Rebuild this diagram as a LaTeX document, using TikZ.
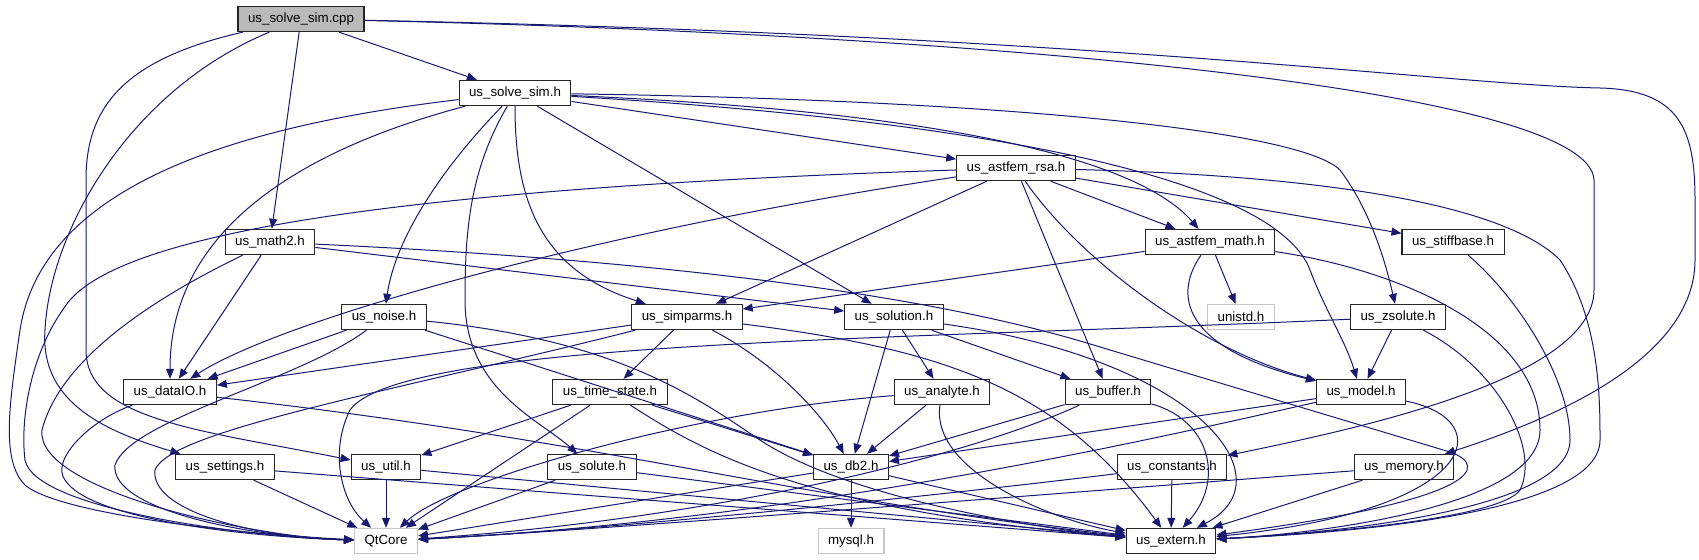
\documentclass[tikz,border=0pt]{standalone}
\usepackage{fontspec}
\setmainfont{Liberation Sans}
\usetikzlibrary{arrows.meta}

\definecolor{edgeblue}{RGB}{25,25,112}
\tikzset{
  file/.style={draw=black!85, fill=white, line width=0.8pt, inner xsep=7.5pt,
    minimum height=19pt, font=\fontsize{10}{12}\selectfont},
  mainfile/.style={file, fill=black!27},
  sysfile/.style={file, draw=black!22},
  dep/.style={->, draw=edgeblue, line width=0.75pt}
}

\begin{document}
\begin{tikzpicture}[>={Triangle[length=7.5pt,width=6pt]}, x=0.75pt, y=-0.75pt]
  \useasboundingbox (0,0) rectangle (1699,560);

  % Files
  \node[mainfile] (cpp) at (301,19) {us\_solve\_sim.cpp};
  \node[file] (ssh) at (515,93) {us\_solve\_sim.h};
  \node[file] (math2) at (270,242) {us\_math2.h};
  \node[file] (astrsa) at (1016,168) {us\_astfem\_rsa.h};
  \node[file] (astmath) at (1210,242) {us\_astfem\_math.h};
  \node[file] (stiff) at (1453,242) {us\_stiffbase.h};
  \node[file] (noise) at (384,317) {us\_noise.h};
  \node[file] (simparms) at (687,317) {us\_simparms.h};
  \node[file] (solution) at (894,317) {us\_solution.h};
  \node[sysfile] (unistd) at (1241,317) {unistd.h};
  \node[file] (zsolute) at (1398,317) {us\_zsolute.h};
  \node[file] (dataio) at (170,392) {us\_dataIO.h};
  \node[file] (timestate) at (610,392) {us\_time\_state.h};
  \node[file] (analyte) at (942,392) {us\_analyte.h};
  \node[file] (buffer) at (1108,392) {us\_buffer.h};
  \node[file] (model) at (1361,392) {us\_model.h};
  \node[file] (settings) at (225,467) {us\_settings.h};
  \node[file] (util) at (386,467) {us\_util.h};
  \node[file] (solute) at (592,467) {us\_solute.h};
  \node[file] (db2) at (851,467) {us\_db2.h};
  \node[file] (constants) at (1172,467) {us\_constants.h};
  \node[file] (memory) at (1404,467) {us\_memory.h};
  \node[sysfile] (qtcore) at (386,541) {QtCore};
  \node[sysfile] (mysql) at (851,541) {mysql.h};
  \node[file] (extern) at (1171,541) {us\_extern.h};

  % us_solve_sim.cpp
  \draw[dep] (cpp) -- (ssh);
  \draw[dep] (cpp) -- (math2);
  \draw[dep] (cpp) .. controls (130,90) and (50,230) .. (45,330) .. controls (40,400) and (100,430) .. (settings);
  \draw[dep] (cpp) .. controls (120,60) and (86,110) .. (86,180) -- (86,350) .. controls (86,420) and (200,430) .. (util);
  \draw[dep] (cpp) .. controls (1000,35) and (1590,90) .. (1594,180) -- (1594,290) .. controls (1594,380) and (1350,430) .. (constants);
  \draw[dep] (cpp) .. controls (1100,35) and (1450,85) .. (1600,88) .. controls (1680,90) and (1695,130) .. (1695,200) -- (1695,260) .. controls (1695,360) and (1550,420) .. (memory);

  % us_solve_sim.h
  \draw[dep] (ssh) -- (astrsa);
  \draw[dep] (ssh) -- (solution);
  \draw[dep] (ssh) .. controls (440,170) and (395,240) .. (noise);
  \draw[dep] (ssh) .. controls (470,170) and (465,230) .. (465,300) .. controls (465,390) and (540,420) .. (solute);
  \draw[dep] (ssh) .. controls (515,200) and (540,270) .. (simparms);
  \draw[dep] (ssh) .. controls (300,150) and (170,230) .. (dataio);
  \draw[dep] (ssh) .. controls (200,130) and (40,200) .. (20,330) .. controls (10,400) and (0,460) .. (25,485) .. controls (60,515) and (250,535) .. (qtcore);
  \draw[dep] (ssh) .. controls (900,110) and (1130,150) .. (astmath);
  \draw[dep] (ssh) .. controls (1050,125) and (1280,190) .. (1310,270) .. controls (1325,310) and (1345,340) .. (model);
  \draw[dep] (ssh) .. controls (1000,100) and (1300,130) .. (1340,170) .. controls (1370,210) and (1385,260) .. (zsolute);

  % us_math2.h
  \draw[dep] (math2) -- (dataio);
  \draw[dep] (math2) .. controls (150,300) and (60,360) .. (42,430) .. controls (35,490) and (250,537) .. (qtcore);
  \draw[dep] (math2) -- (solution);
  \draw[dep] (math2) .. controls (700,262) and (950,300) .. (1100,347) -- (1450,452) .. controls (1490,466) and (1480,500) .. (extern);

  % us_astfem_rsa.h
  \draw[dep] (astrsa) -- (astmath);
  \draw[dep] (astrsa) -- (stiff);
  \draw[dep] (astrsa) -- (simparms);
  \draw[dep] (astrsa) -- (buffer);
  \draw[dep] (astrsa) .. controls (1080,260) and (1200,350) .. (model);
  \draw[dep] (astrsa) .. controls (1300,175) and (1500,200) .. (1560,260) .. controls (1600,320) and (1600,400) .. (1600,440) .. controls (1600,520) and (1300,535) .. (extern);
  \draw[dep] (astrsa) .. controls (600,230) and (280,320) .. (dataio);
  \draw[dep] (astrsa) .. controls (500,185) and (140,220) .. (70,300) .. controls (30,350) and (20,420) .. (25,460) .. controls (35,510) and (250,537) .. (qtcore);

  % us_astfem_math.h, us_stiffbase.h
  \draw[dep] (astmath) -- (simparms);
  \draw[dep] (astmath) -- (unistd);
  \draw[dep] (astmath) .. controls (1170,300) and (1190,350) .. (model);
  \draw[dep] (astmath) .. controls (1400,270) and (1540,330) .. (1540,430) .. controls (1540,510) and (1300,535) .. (extern);
  \draw[dep] (stiff) .. controls (1520,300) and (1570,380) .. (1570,440) .. controls (1570,515) and (1300,535) .. (extern);

  % us_noise.h
  \draw[dep] (noise) -- (dataio);
  \draw[dep] (noise) .. controls (300,380) and (130,420) .. (115,465) .. controls (110,510) and (250,537) .. (qtcore);
  \draw[dep] (noise) -- (db2);
  \draw[dep] (noise) .. controls (620,340) and (700,400) .. (760,440) .. controls (850,500) and (1050,530) .. (extern);

  % us_simparms.h
  \draw[dep] (simparms) -- (dataio);
  \draw[dep] (simparms) .. controls (400,390) and (170,430) .. (155,470) .. controls (150,510) and (250,537) .. (qtcore);
  \draw[dep] (simparms) -- (timestate);
  \draw[dep] (simparms) .. controls (770,360) and (820,410) .. (db2);
  \draw[dep] (simparms) .. controls (950,350) and (1060,390) .. (extern);

  % us_solution.h
  \draw[dep] (solution) -- (db2);
  \draw[dep] (solution) -- (analyte);
  \draw[dep] (solution) -- (buffer);
  \draw[dep] (solution) .. controls (1200,360) and (1290,480) .. (extern);

  % us_zsolute.h
  \draw[dep] (zsolute) -- (model);
  \draw[dep] (zsolute) .. controls (900,340) and (400,340) .. (350,410) .. controls (330,450) and (340,500) .. (qtcore);
  \draw[dep] (zsolute) .. controls (1500,370) and (1540,450) .. (1520,490) .. controls (1500,520) and (1300,535) .. (extern);

  % us_dataIO.h, us_time_state.h
  \draw[dep] (dataio) .. controls (90,420) and (50,460) .. (65,480) .. controls (90,520) and (250,537) .. (qtcore);
  \draw[dep] (dataio) .. controls (600,440) and (800,500) .. (extern);
  \draw[dep] (timestate) -- (util);
  \draw[dep] (timestate) -- (qtcore);
  \draw[dep] (timestate) -- (db2);
  \draw[dep] (timestate) .. controls (700,450) and (800,510) .. (extern);

  % us_analyte.h, us_buffer.h, us_model.h
  \draw[dep] (analyte) -- (db2);
  \draw[dep] (analyte) .. controls (700,410) and (450,480) .. (qtcore);
  \draw[dep] (analyte) .. controls (930,470) and (1050,520) .. (extern);
  \draw[dep] (buffer) -- (db2);
  \draw[dep] (buffer) .. controls (960,460) and (700,520) .. (qtcore);
  \draw[dep] (buffer) .. controls (1210,420) and (1225,480) .. (extern);
  \draw[dep] (model) -- (db2);
  \draw[dep] (model) .. controls (1150,440) and (800,520) .. (qtcore);
  \draw[dep] (model) .. controls (1500,420) and (1480,510) .. (extern);

  % bottom rows
  \draw[dep] (settings) -- (qtcore);
  \draw[dep] (settings) -- (extern);
  \draw[dep] (util) -- (qtcore);
  \draw[dep] (util) -- (extern);
  \draw[dep] (solute) -- (qtcore);
  \draw[dep] (solute) -- (extern);
  \draw[dep] (db2) -- (qtcore);
  \draw[dep] (db2) -- (mysql);
  \draw[dep] (db2) -- (extern);
  \draw[dep] (constants) .. controls (900,500) and (600,530) .. (qtcore);
  \draw[dep] (constants) -- (extern);
  \draw[dep] (memory) .. controls (1100,490) and (600,530) .. (qtcore);
  \draw[dep] (memory) -- (extern);
\end{tikzpicture}
\end{document}
